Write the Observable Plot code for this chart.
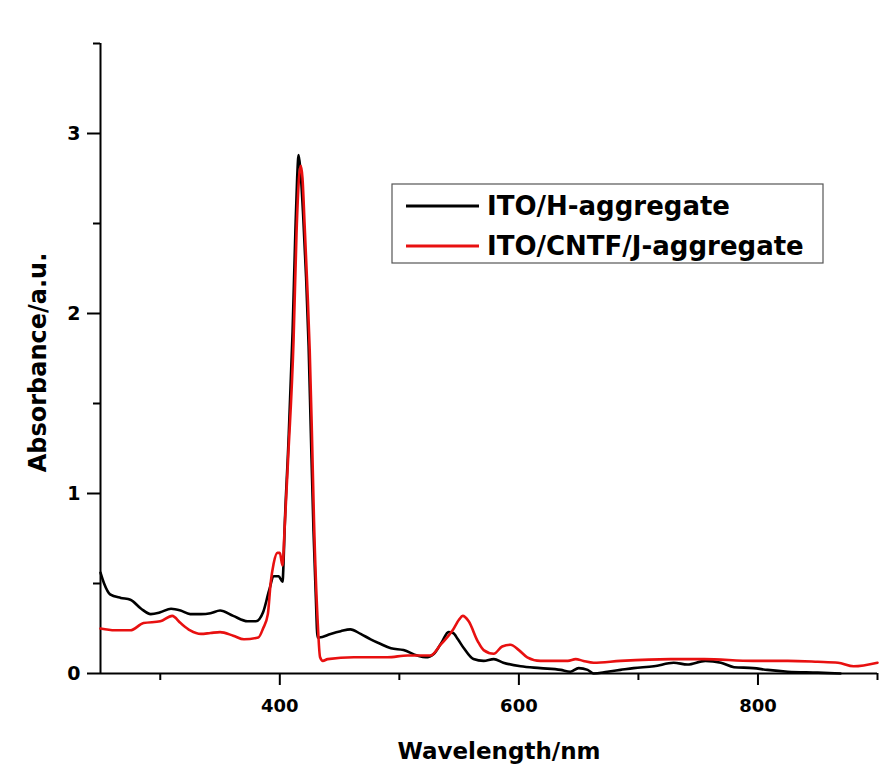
<!DOCTYPE html>
<html><head><meta charset="utf-8">
<script src="https://cdn.jsdelivr.net/npm/d3@7"></script>
<script src="https://cdn.jsdelivr.net/npm/@observablehq/plot@0.6"></script>
<style>body{margin:0;background:#fff} svg{display:block}</style>
</head><body><div id="chart"></div>
<script>
// ITO/H-aggregate (black)
const blackNm = [250, 253, 258, 267, 275, 284, 292, 300, 309, 317, 325, 334, 342, 350, 361, 373, 380, 386, 391, 395, 399, 402.3, 403.1, 404, 407, 410.7, 413, 414.5, 415.7, 417.2, 419.5, 422, 424.1, 426, 428.2, 430, 431.6, 433, 442.5, 451, 459, 467.6, 476, 484, 493, 503.5, 515, 522, 529, 536, 541, 545, 549, 554, 562, 570.5, 579, 587, 601.5, 618, 635, 643, 650, 657.5, 662.5, 674, 685, 696, 713, 729.5, 741, 756, 769, 780, 796, 808, 825, 850, 869];
const blackAbs = [0.56, 0.50, 0.44, 0.42, 0.41, 0.36, 0.33, 0.34, 0.36, 0.35, 0.33, 0.33, 0.335, 0.35, 0.32, 0.29, 0.29, 0.34, 0.46, 0.54, 0.54, 0.51, 0.61, 0.80, 1.25, 1.90, 2.45, 2.75, 2.88, 2.80, 2.55, 2.2, 1.82, 1.33, 0.79, 0.45, 0.20, 0.20, 0.22, 0.235, 0.245, 0.22, 0.19, 0.165, 0.14, 0.13, 0.10, 0.09, 0.11, 0.18, 0.23, 0.225, 0.19, 0.14, 0.08, 0.07, 0.08, 0.06, 0.04, 0.03, 0.02, 0.01, 0.03, 0.02, 0.0, 0.01, 0.02, 0.03, 0.04, 0.06, 0.05, 0.07, 0.06, 0.035, 0.03, 0.02, 0.01, 0.005, 0.0];
// ITO/CNTF/J-aggregate (red)
const redNm = [250, 262, 275, 286, 300, 310, 317, 325, 334, 342, 350, 361, 370, 382, 386, 390, 392.3, 394.8, 398, 400, 402.3, 404, 407, 411.5, 414, 416, 417.5, 419, 420.7, 423, 425, 426.8, 428.6, 431.6, 433.7, 436, 440, 462, 490, 507, 518, 526, 534.5, 544.6, 550, 553, 558, 565.5, 570.5, 579, 586, 593, 600, 607, 618, 641, 647.5, 654, 662.5, 685, 727, 755, 796, 825, 850, 867, 880, 900];
const redAbs = [0.25, 0.24, 0.24, 0.28, 0.29, 0.32, 0.28, 0.24, 0.22, 0.225, 0.23, 0.21, 0.19, 0.20, 0.25, 0.33, 0.50, 0.61, 0.67, 0.67, 0.60, 0.80, 1.20, 1.85, 2.45, 2.75, 2.82, 2.75, 2.5, 2.15, 1.8, 1.35, 0.85, 0.30, 0.09, 0.07, 0.08, 0.09, 0.09, 0.10, 0.10, 0.10, 0.16, 0.24, 0.30, 0.32, 0.29, 0.18, 0.13, 0.11, 0.15, 0.16, 0.13, 0.09, 0.07, 0.07, 0.08, 0.07, 0.06, 0.07, 0.08, 0.08, 0.07, 0.07, 0.065, 0.06, 0.04, 0.06];

const seriesNames = ["ITO/H-aggregate", "ITO/CNTF/J-aggregate"];
const seriesColors = ["#000000", "#e81010"];
const xMajorTicks = [400, 600, 800];
const xMinorTicks = [300, 500, 700, 900];
const yMajorTicks = [0, 1, 2, 3];
const yMinorTicks = [0.5, 1.5, 2.5, 3.5];
const xTitle = "Wavelength/nm";
const yTitle = "Absorbance/a.u.";

const black = blackNm.map((x, i) => ({x, y: blackAbs[i]}));
const red = redNm.map((x, i) => ({x, y: redAbs[i]}));
const font = "DejaVu Sans";

const chart = Plot.plot({
  width: 882, height: 783,
  marginLeft: 100, marginRight: 5, marginTop: 43, marginBottom: 110,
  style: {fontFamily: font, background: "#fff", color: "#000"},
  x: {domain: [250, 900]},
  y: {domain: [0, 3.5]},
  marks: [
    Plot.axisX({ticks: xMajorTicks, tickSize: 12, tickPadding: 14, strokeWidth: 2, fontSize: 18, fontWeight: "bold", tickFormat: d => String(d), label: null}),
    Plot.axisX({ticks: xMinorTicks, tickSize: 7, strokeWidth: 2, tickFormat: () => "", label: null}),
    Plot.axisY({ticks: yMajorTicks, tickSize: 13, tickPadding: 7, strokeWidth: 2, fontSize: 19, fontWeight: "bold", tickFormat: d => String(d), label: null}),
    Plot.axisY({ticks: yMinorTicks, tickSize: 7, strokeWidth: 2, tickFormat: () => "", label: null}),
    Plot.ruleX([250], {strokeWidth: 2}),
    Plot.ruleY([0], {strokeWidth: 2}),
    Plot.line(black, {x: "x", y: "y", stroke: seriesColors[0], strokeWidth: 2.6, curve: "monotone-x"}),
    Plot.line(red, {x: "x", y: "y", stroke: seriesColors[1], strokeWidth: 2.6, curve: "monotone-x"}),
    Plot.text([xTitle], {text: d => d, frameAnchor: "bottom", dx: 10, dy: 78, fontSize: 23, fontWeight: "bold", lineAnchor: "middle", textAnchor: "middle"}),
    Plot.text([yTitle], {text: d => d, frameAnchor: "left", rotate: -90, dx: -62, dy: 4, fontSize: 24, fontWeight: "bold", lineAnchor: "middle", textAnchor: "middle"})
  ]
});
document.getElementById("chart").appendChild(chart);

// Legend box
const svg = d3.select(chart);
const lg = svg.append("g").attr("font-family", font).attr("font-weight", "bold").attr("text-anchor", "start");
lg.append("rect").attr("x", 392).attr("y", 184).attr("width", 431).attr("height", 79)
  .attr("fill", "#fff").attr("stroke", "#555").attr("stroke-width", 1.2);
seriesNames.forEach((name, i) => {
  const yy = 206 + i * 40;
  lg.append("line").attr("x1", 406).attr("x2", 479).attr("y1", yy).attr("y2", yy)
    .attr("stroke", seriesColors[i]).attr("stroke-width", 3);
  lg.append("text").attr("x", 487).attr("y", yy + 9).attr("font-size", 26)
    .attr("text-anchor", "start").attr("fill", "#000").text(name);
});
</script>
</body></html>
